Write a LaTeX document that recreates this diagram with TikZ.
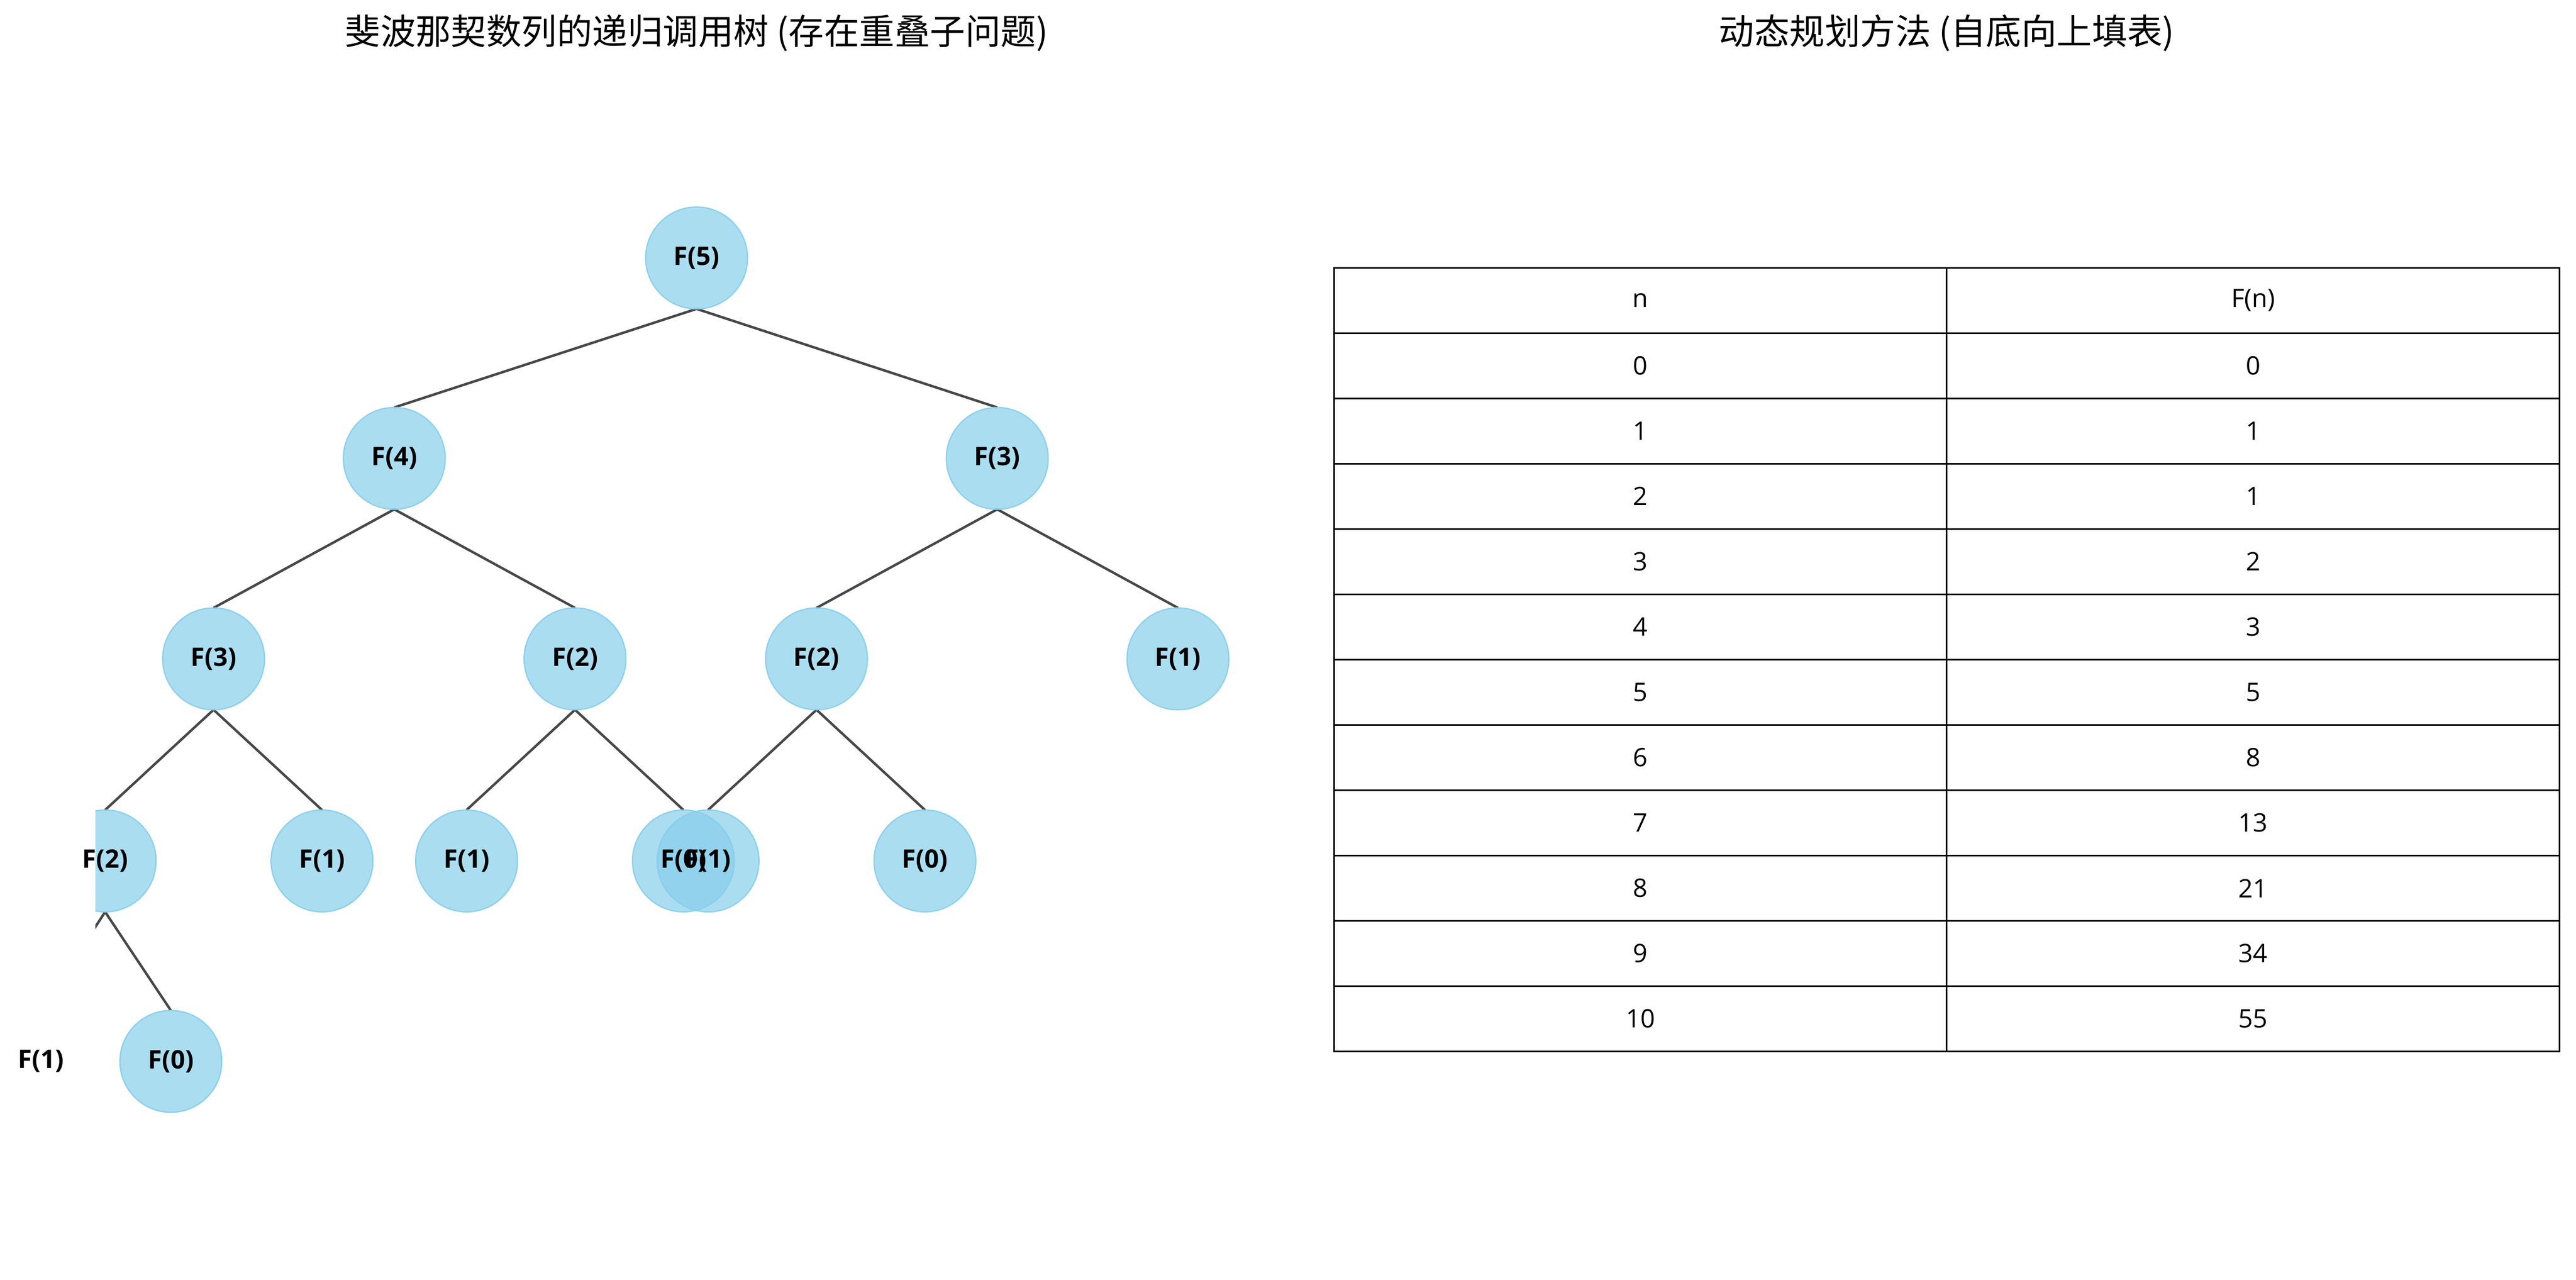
\documentclass[tikz,border=0pt]{standalone}
\usepackage{fontspec}
\setmainfont{Open Sans}
\newfontfamily\cjk{Noto Sans CJK SC}
\definecolor{sky}{RGB}{135,206,235}
\begin{document}
\begin{tikzpicture}[x=1pt,y=-1pt,
  circ/.style={fill=sky, fill opacity=0.7, draw=sky, draw opacity=0.9, line width=0.8pt},
  edge/.style={draw=black!72, line width=1.5pt},
  lab/.style={font=\fontsize{15.5}{18}\selectfont\bfseries},
  cell/.style={draw=black, line width=1pt},
  ttl/.style={font=\cjk\fontsize{21.5}{25}\selectfont}]
\useasboundingbox (0,0) rectangle (1568,779);
\def\R{31}
\foreach \n/\x/\y in {a/424/157,b/240/279,c/607/279,d/130/401,e/350/401,f/497/401,g/717/401,
  h/64/524,i/196/524,j/284/524,k/416/524,l/431/524,m/563/524,o/104/646,p/25/646}
  {\coordinate (\n) at (\x,\y);}
\begin{scope}
\clip (58,40) rectangle (760,779);
\foreach \p/\q in {a/b,a/c,b/d,b/e,c/f,c/g,d/h,d/i,e/j,e/k,f/l,f/m,h/p,h/o}
  {\draw[edge] ([yshift=-\R]\p) -- ([yshift=\R]\q);}
\foreach \n in {a,b,c,d,e,f,g,h,i,j,k,l,m,o,p}
  {\fill[circ] (\n) circle (\R);}
\end{scope}
\foreach \n/\t in {a/F(5),b/F(4),c/F(3),d/F(3),e/F(2),f/F(2),g/F(1),h/F(2),i/F(1),j/F(1),k/F(0),l/F(1),m/F(0),o/F(0),p/F(1)}
  {\node[lab] (t\n) at (\n) {\t};}
\node[ttl] (lt) at (424,20) {斐波那契数列的递归调用树 (存在重叠子问题)};
\node[ttl] (rt) at (1185,20) {动态规划方法 (自底向上填表)};
\foreach \a/\b [count=\r from 0] in {n/F(n),0/0,1/1,2/1,3/2,4/3,5/5,6/8,7/13,8/21,9/34,10/55}{
  \draw[cell] (812,{163+\r*39.75}) rectangle (1185,{163+(\r+1)*39.75});
  \draw[cell] (1185,{163+\r*39.75}) rectangle (1558,{163+(\r+1)*39.75});
  \node[font=\fontsize{15.5}{18}\selectfont] (ca\r) at (998.5,{163+(\r+0.5)*39.75}) {\a};
  \node[font=\fontsize{15.5}{18}\selectfont] (cb\r) at (1371.5,{163+(\r+0.5)*39.75}) {\b};
}
\end{tikzpicture}
\end{document}
